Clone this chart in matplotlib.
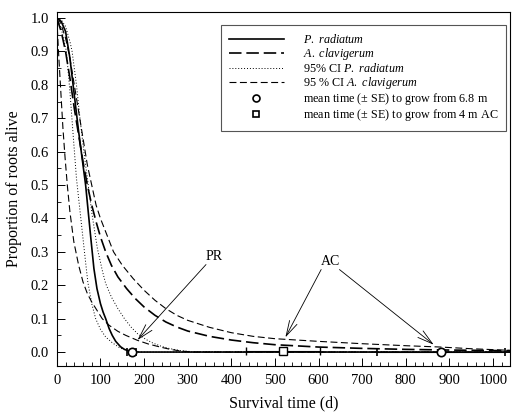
import matplotlib
matplotlib.use("Agg")
import matplotlib.pyplot as plt
from matplotlib.lines import Line2D
from matplotlib.ticker import MultipleLocator

plt.rcParams["font.family"] = "Liberation Serif"
plt.rcParams["mathtext.fontset"] = "custom"
plt.rcParams["mathtext.rm"] = "Liberation Serif"
plt.rcParams["mathtext.it"] = "Liberation Serif:italic"
plt.rcParams["lines.scale_dashes"] = False

# P. radiatum fitted survival
t_pr = [0, 10, 20, 30, 40, 50, 60, 66, 72, 78, 85, 92, 100, 106, 112, 120, 127, 135,
        146, 155, 165, 175, 190, 1040]
s_pr = [1.0, 0.99, 0.96, 0.88, 0.77, 0.66, 0.56, 0.50, 0.42, 0.34, 0.25, 0.19, 0.145,
        0.12, 0.10, 0.07, 0.05, 0.032, 0.016, 0.008, 0.003, 0.001, 0.0, 0.0]

# 95% CI P. radiatum (upper / lower)
t_pr_hi = [0, 10, 20, 30, 35, 45, 53, 62, 72, 81, 93, 105, 112, 125, 140, 155, 170,
           185, 204, 220, 240, 257, 280, 310, 1040]
s_pr_hi = [1.0, 0.995, 0.975, 0.93, 0.90, 0.80, 0.70, 0.60, 0.50, 0.41, 0.31, 0.24,
           0.205, 0.165, 0.13, 0.10, 0.075, 0.055, 0.038, 0.027, 0.017, 0.011, 0.005,
           0.001, 0.0]
t_pr_lo = [0, 10, 22, 30, 38, 45, 50, 55, 60, 65, 71, 80, 89, 100, 112, 127, 145, 166,
           185, 1040]
s_pr_lo = [1.0, 0.97, 0.90, 0.78, 0.64, 0.52, 0.46, 0.40, 0.34, 0.28, 0.21, 0.145, 0.10,
           0.068, 0.045, 0.028, 0.012, 0.003, 0.0, 0.0]

# A. clavigerum fitted survival
t_ac = [0, 10, 20, 30, 40, 50, 60, 70, 80, 90, 100, 112, 125, 140, 160, 180, 200, 225,
        250, 275, 300, 350, 400, 450, 500, 600, 700, 800, 900, 1040]
s_ac = [1.0, 0.96, 0.90, 0.82, 0.73, 0.65, 0.57, 0.50, 0.44, 0.39, 0.345, 0.30, 0.26,
        0.225, 0.19, 0.16, 0.135, 0.11, 0.09, 0.075, 0.063, 0.047, 0.036, 0.028, 0.022,
        0.015, 0.011, 0.008, 0.006, 0.004]

# 95% CI A. clavigerum (upper / lower)
t_ac_hi = [0, 5, 10, 20, 30, 40, 50, 60, 70, 80, 90, 100, 115, 130, 150, 175, 200, 225,
           250, 275, 300, 350, 400, 450, 500, 600, 700, 800, 880, 950, 1040]
s_ac_hi = [1.0, 0.995, 0.98, 0.94, 0.88, 0.80, 0.72, 0.64, 0.56, 0.50, 0.44, 0.40, 0.35,
           0.30, 0.26, 0.22, 0.185, 0.155, 0.13, 0.11, 0.095, 0.074, 0.058, 0.047, 0.04,
           0.032, 0.025, 0.019, 0.015, 0.01, 0.005]
t_ac_lo = [0, 3, 6, 10, 14, 19, 24, 30, 39, 50, 60, 70, 80, 92, 104, 120, 140, 158, 185,
           210, 234, 260, 285, 310, 1040]
s_ac_lo = [1.0, 0.92, 0.85, 0.76, 0.67, 0.58, 0.50, 0.42, 0.33, 0.26, 0.21, 0.175, 0.15,
           0.125, 0.10, 0.08, 0.062, 0.05, 0.035, 0.024, 0.016, 0.008, 0.003, 0.0, 0.0]

# mean time (+/- SE) markers
circ_x = [172, 880]
circ_err = [10, 147]
sq_x = [518]
sq_err = [[85], [86]]

fig, ax = plt.subplots(figsize=(5.12, 4.16), dpi=100)
fig.subplots_adjust(left=0.111, right=0.997, top=0.971, bottom=0.12)

l1, = ax.plot(t_pr, s_pr, color="black", lw=1.2)
l2, = ax.plot(t_ac, s_ac, color="black", lw=1.2, dashes=(9, 3.5))
l3, = ax.plot(t_pr_hi, s_pr_hi, color="black", lw=0.7, dashes=(0.7, 1.4))
ax.plot(t_pr_lo, s_pr_lo, color="black", lw=0.7, dashes=(0.7, 1.4))
l4, = ax.plot(t_ac_hi, s_ac_hi, color="black", lw=0.8, dashes=(5, 2.5))
ax.plot(t_ac_lo, s_ac_lo, color="black", lw=0.8, dashes=(5, 2.5))

ax.errorbar(circ_x, [0, 0], xerr=circ_err, fmt="o", ms=6, mfc="white", mec="black",
            mew=1.2, ecolor="black", elinewidth=0.8, capsize=3, zorder=5)
ax.errorbar(sq_x, [0.003], xerr=sq_err, fmt="s", ms=5.5, mfc="white", mec="black",
            mew=1.0, ecolor="black", elinewidth=0.8, capsize=3, zorder=5)

# arrows
arrow = dict(arrowstyle="->, head_length=1.1, head_width=0.3", color="black", lw=0.6,
             shrinkA=0, shrinkB=0)
ax.text(361, 0.285, "PR", fontsize=10, ha="center", va="center")
ax.annotate("", xy=(185, 0.036), xytext=(342, 0.262), arrowprops=arrow)
ax.text(628, 0.272, "AC", fontsize=10, ha="center", va="center")
ax.annotate("", xy=(524, 0.044), xytext=(606, 0.247), arrowprops=arrow)
ax.annotate("", xy=(864, 0.022), xytext=(648, 0.247), arrowprops=arrow)

ax.set_xlim(0, 1040)
ax.set_ylim(-0.042, 1.018)
ax.xaxis.set_major_locator(MultipleLocator(100))
ax.xaxis.set_minor_locator(MultipleLocator(20))
ax.yaxis.set_major_locator(MultipleLocator(0.1))
ax.yaxis.set_minor_locator(MultipleLocator(0.05))
ax.set_yticks([i / 10 for i in range(11)])
ax.set_yticklabels([f"{i / 10:.1f}" for i in range(11)])
ax.tick_params(which="major", direction="in", length=6, width=0.7, labelsize=10.5)
ax.tick_params(which="minor", direction="in", length=3, width=0.6)
ax.tick_params(axis="x", pad=6)
ax.tick_params(axis="y", pad=5.5)
for sp in ax.spines.values():
    sp.set_linewidth(0.8)

ax.set_xlabel("Survival time (d)", fontsize=11.5, labelpad=6)
ax.set_ylabel("Proportion of roots alive", fontsize=11.5, labelpad=6)

handles = [l1, l2, l3, l4,
           Line2D([], [], ls="none", marker="o", ms=5, mfc="white", mec="black", mew=1.2),
           Line2D([], [], ls="none", marker="s", ms=4.5, mfc="white", mec="black", mew=1.2)]
labels = [r"$\mathit{P.}$ $\mathit{radiatum}$",
          r"$\mathit{A.}$ $\mathit{clavigerum}$",
          r"95% CI $\mathit{P.}$ $\mathit{radiatum}$",
          r"95 % CI $\mathit{A.}$ $\mathit{clavigerum}$",
          r"mean time ($\pm$ SE) to grow from 6.8 m",
          r"mean time ($\pm$ SE) to grow from 4 m AC"]
leg = ax.legend(handles, labels, loc="upper right", bbox_to_anchor=(0.991, 0.963),
                borderaxespad=0, fontsize=8.7, handlelength=4.6, handletextpad=1.55,
                labelspacing=0.0, borderpad=0.65, fancybox=False, framealpha=1,
                edgecolor="#555555")
leg.get_frame().set_linewidth(0.8)

fig.savefig("out.png", dpi=100)
